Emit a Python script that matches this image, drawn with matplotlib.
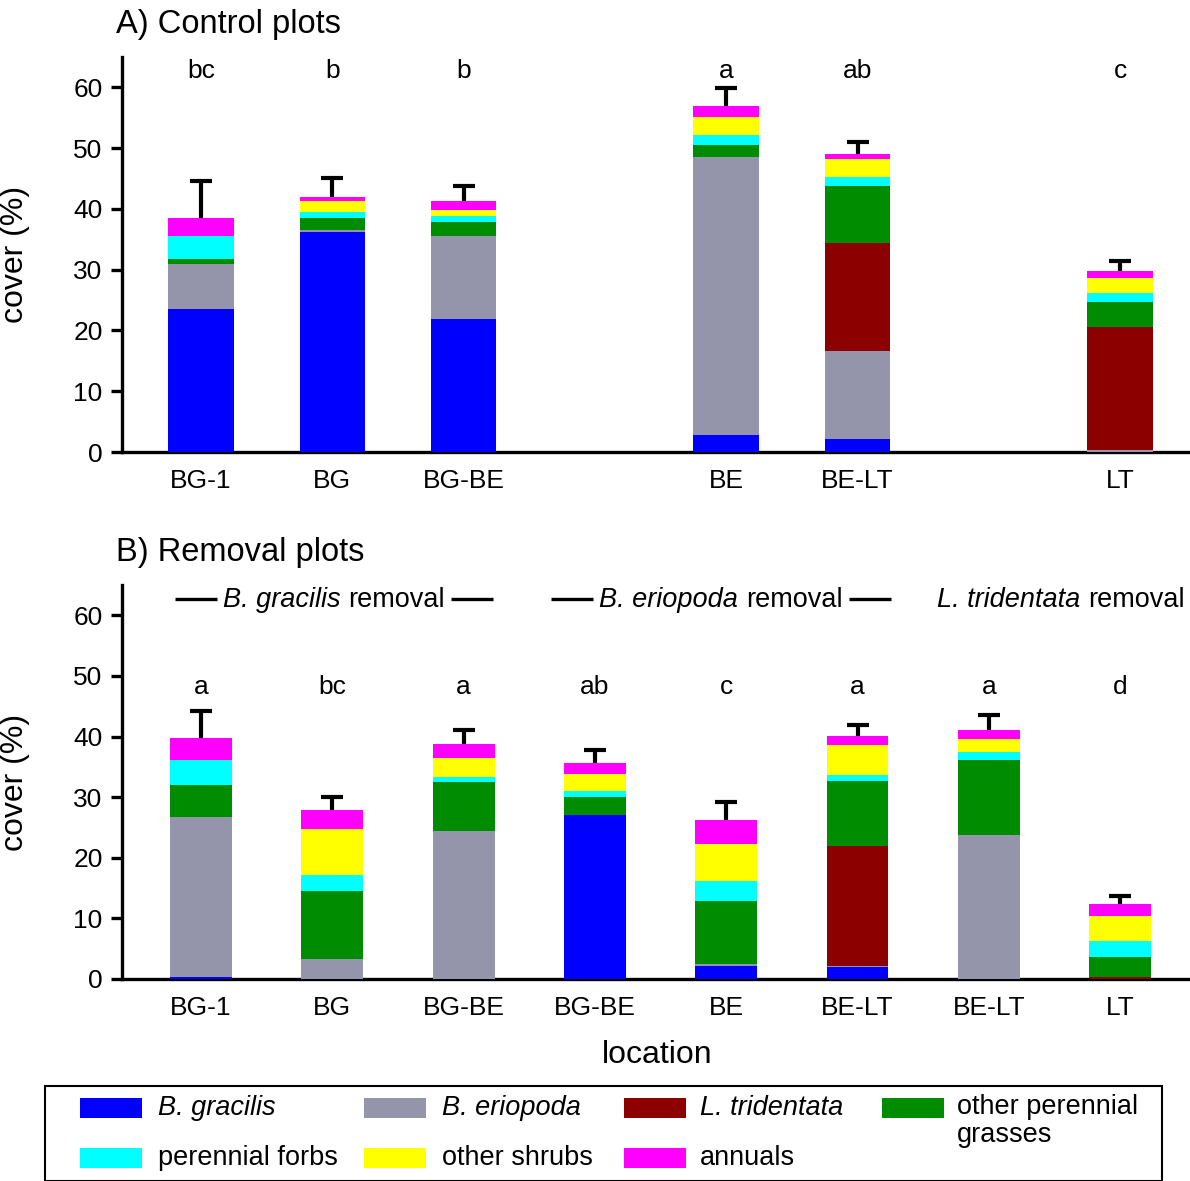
import matplotlib
matplotlib.use('Agg')
import matplotlib.pyplot as plt
import numpy as np
from matplotlib.patches import Rectangle
from matplotlib.lines import Line2D

plt.rcParams['font.family'] = ['Liberation Sans', 'DejaVu Sans']

# ---------------- data ----------------
component_names = ['B. gracilis', 'B. eriopoda', 'L. tridentata',
                   'other perennial\ngrasses', 'perennial forbs',
                   'other shrubs', 'annuals']
component_italic = [True, True, True, False, False, False, False]
component_colors = ['#0000FF', '#9494AA', '#8C0000', '#008C00',
                    '#00FFFF', '#FFFF00', '#FF00FF']

# A) Control plots
control_labels = ['BG-1', 'BG', 'BG-BE', 'BE', 'BE-LT', 'LT']
control_slots = [0, 1, 2, 4, 5, 7]
control_gracilis = [23.5, 36.2, 21.9, 2.8, 2.1, 0.0]
control_eriopoda = [7.5, 0.4, 13.6, 45.7, 14.6, 0.4]
control_tridentata = [0.0, 0.0, 0.0, 0.0, 17.7, 20.1]
control_grasses = [0.8, 1.9, 2.3, 2.0, 9.3, 4.2]
control_forbs = [3.8, 1.0, 1.1, 1.7, 1.5, 1.5]
control_shrubs = [0.0, 1.8, 0.9, 2.9, 3.0, 2.5]
control_annuals = [2.9, 0.6, 1.5, 1.8, 0.8, 1.1]
control_se = [6.1, 3.2, 2.4, 3.0, 2.0, 1.6]
control_letters = ['bc', 'b', 'b', 'a', 'ab', 'c']

# B) Removal plots
removal_labels = ['BG-1', 'BG', 'BG-BE', 'BG-BE', 'BE', 'BE-LT', 'BE-LT', 'LT']
removal_slots = [0, 1, 2, 3, 4, 5, 6, 7]
removal_gracilis = [0.3, 0.0, 0.0, 27.1, 2.1, 1.9, 0.0, 0.0]
removal_eriopoda = [26.4, 3.3, 24.4, 0.0, 0.4, 0.2, 23.8, 0.0]
removal_tridentata = [0.0, 0.0, 0.0, 0.0, 0.0, 19.8, 0.0, 0.3]
removal_grasses = [5.3, 11.3, 8.1, 3.0, 10.4, 10.8, 12.3, 3.3]
removal_forbs = [4.1, 2.5, 0.9, 0.9, 3.2, 0.9, 1.4, 2.7]
removal_shrubs = [0.0, 7.7, 3.0, 2.9, 6.1, 5.0, 2.1, 4.1]
removal_annuals = [3.6, 3.1, 2.3, 1.7, 4.1, 1.5, 1.4, 2.0]
removal_se = [4.5, 2.2, 2.3, 2.1, 2.9, 1.8, 2.6, 1.3]
removal_letters = ['a', 'bc', 'a', 'ab', 'c', 'a', 'a', 'd']

removal_species = ['B. gracilis', 'B. eriopoda', 'L. tridentata']
removal_word = 'removal'
removal_group_centers = [1.01, 3.96, 6.55]
removal_group_lines = [True, True, False]

y_ticks = [0, 10, 20, 30, 40, 50, 60]

# ---------------- figure ----------------
W, H = 1190, 1181
fig = plt.figure(figsize=(W / 100, H / 100), dpi=100)


def px_to_fig(x, y):
    return x / W, 1 - y / H


ax_top = fig.add_axes([122 / W, 1 - 452 / H, (W - 122) / W, (452 - 57) / H])
ax_bot = fig.add_axes([122 / W, 1 - 979 / H, (W - 122) / W, (979 - 585) / H])


def style_axes(ax):
    ax.set_xlim(-0.602, 7.532)
    ax.set_ylim(0, 65)
    ax.set_yticks(y_ticks)
    for s in ['top', 'right']:
        ax.spines[s].set_visible(False)
    for s in ['left', 'bottom']:
        ax.spines[s].set_linewidth(2.4)
    ax.tick_params(axis='y', direction='out', length=8, width=2.4,
                   labelsize=19, pad=6)
    ax.tick_params(axis='x', length=0, labelsize=19, pad=12)
    ax.set_ylabel('cover (%)', fontsize=23)
    ax.yaxis.set_label_coords(-0.086, 0.5)


def draw_stack(ax, slots, labels, comps, se, letters, width, letter_y):
    x = np.array(slots, dtype=float)
    bottom = np.zeros(len(slots))
    for vals, col in zip(comps, component_colors):
        vals = np.array(vals)
        ax.bar(x, vals, width=width, bottom=bottom, color=col,
               edgecolor='none', zorder=3)
        bottom = bottom + vals
    eb = ax.errorbar(x, bottom, yerr=[np.zeros(len(se)), se], fmt='none',
                     ecolor='black', elinewidth=3.0, capsize=8, capthick=3.0,
                     zorder=2)
    # keep only the upper cap
    eb.lines[1][0].set_visible(False)
    eb.lines[2][0].set_capstyle('round')
    for xi, let in zip(x, letters):
        ax.text(xi, letter_y, let, ha='center', va='center', fontsize=19)
    ax.set_xticks(x)
    ax.set_xticklabels(labels)


style_axes(ax_top)
style_axes(ax_bot)

draw_stack(ax_top, control_slots, control_labels,
           [control_gracilis, control_eriopoda, control_tridentata,
            control_grasses, control_forbs, control_shrubs, control_annuals],
           control_se, control_letters, 0.5, 62.7)
draw_stack(ax_bot, removal_slots, removal_labels,
           [removal_gracilis, removal_eriopoda, removal_tridentata,
            removal_grasses, removal_forbs, removal_shrubs, removal_annuals],
           removal_se, removal_letters, 0.47, 48.2)

# panel titles
fx, fy = px_to_fig(116, 25)
fig.text(fx, fy, 'A) Control plots', fontsize=23.5, ha='left', va='center')
fx, fy = px_to_fig(116, 552)
fig.text(fx, fy, 'B) Removal plots', fontsize=23.5, ha='left', va='center')

# x label
fx, fy = px_to_fig(657, 1055)
fig.text(fx, fy, 'location', fontsize=23, ha='center', va='center')

# removal group headers: italic species + normal word, centred as a unit
fig.canvas.draw()
renderer = fig.canvas.get_renderer()
hdr_fs = 19.5
space_px = 0.278 * hdr_fs * 100 / 72
for sp, cx, has_lines in zip(removal_species, removal_group_centers,
                             removal_group_lines):
    dx, dy = ax_bot.transData.transform((cx, 62.6))
    t1 = fig.text(0, dy / H, sp, fontsize=hdr_fs, fontstyle='italic',
                  ha='left', va='center')
    t2 = fig.text(0, dy / H, removal_word, fontsize=hdr_fs,
                  ha='left', va='center')
    w1 = t1.get_window_extent(renderer).width
    w2 = t2.get_window_extent(renderer).width
    total = w1 + space_px + w2
    x0 = dx - total / 2
    t1.set_x(x0 / W)
    t2.set_x((x0 + w1 + space_px) / W)
    if has_lines:
        ymid = dy + 1
        gap, ln = 6, 42
        for a, b in [(x0 - gap - ln, x0 - gap),
                     (x0 + total + gap, x0 + total + gap + ln)]:
            fig.add_artist(Line2D([a / W, b / W], [ymid / H, ymid / H],
                                  transform=fig.transFigure, color='black',
                                  linewidth=2.4, solid_capstyle='butt'))

# legend box
lx0, ly0, lx1, ly1 = 45, 1086, 1162, 1181
fig.add_artist(Rectangle((lx0 / W, 1 - ly1 / H), (lx1 - lx0) / W, (ly1 - ly0) / H,
                         transform=fig.transFigure, facecolor='white',
                         edgecolor='black', linewidth=1.5, clip_on=False))

legend_cols = [(80, 158), (364, 442), (624, 700), (882, 957)]
legend_rows = [1108, 1158]
legend_cells = [(0, 0), (0, 1), (0, 2), (0, 3), (1, 0), (1, 1), (1, 2)]
for name, col, ital, (r, c) in zip(component_names, component_colors,
                                   component_italic, legend_cells):
    px, tx = legend_cols[c]
    yc = legend_rows[r]
    fig.add_artist(Rectangle((px / W, 1 - (yc + 10) / H), 62 / W, 20 / H,
                             transform=fig.transFigure, facecolor=col,
                             edgecolor='none'))
    if '\n' in name:
        fig.text(tx / W, 1 - (yc - 14) / H, name, fontsize=19.5, ha='left',
                 va='top', linespacing=1.12,
                 fontstyle='italic' if ital else 'normal')
    else:
        fig.text(tx / W, 1 - yc / H, name, fontsize=19.5, ha='left',
                 va='center', fontstyle='italic' if ital else 'normal')

fig.savefig('out.png', dpi=100)
